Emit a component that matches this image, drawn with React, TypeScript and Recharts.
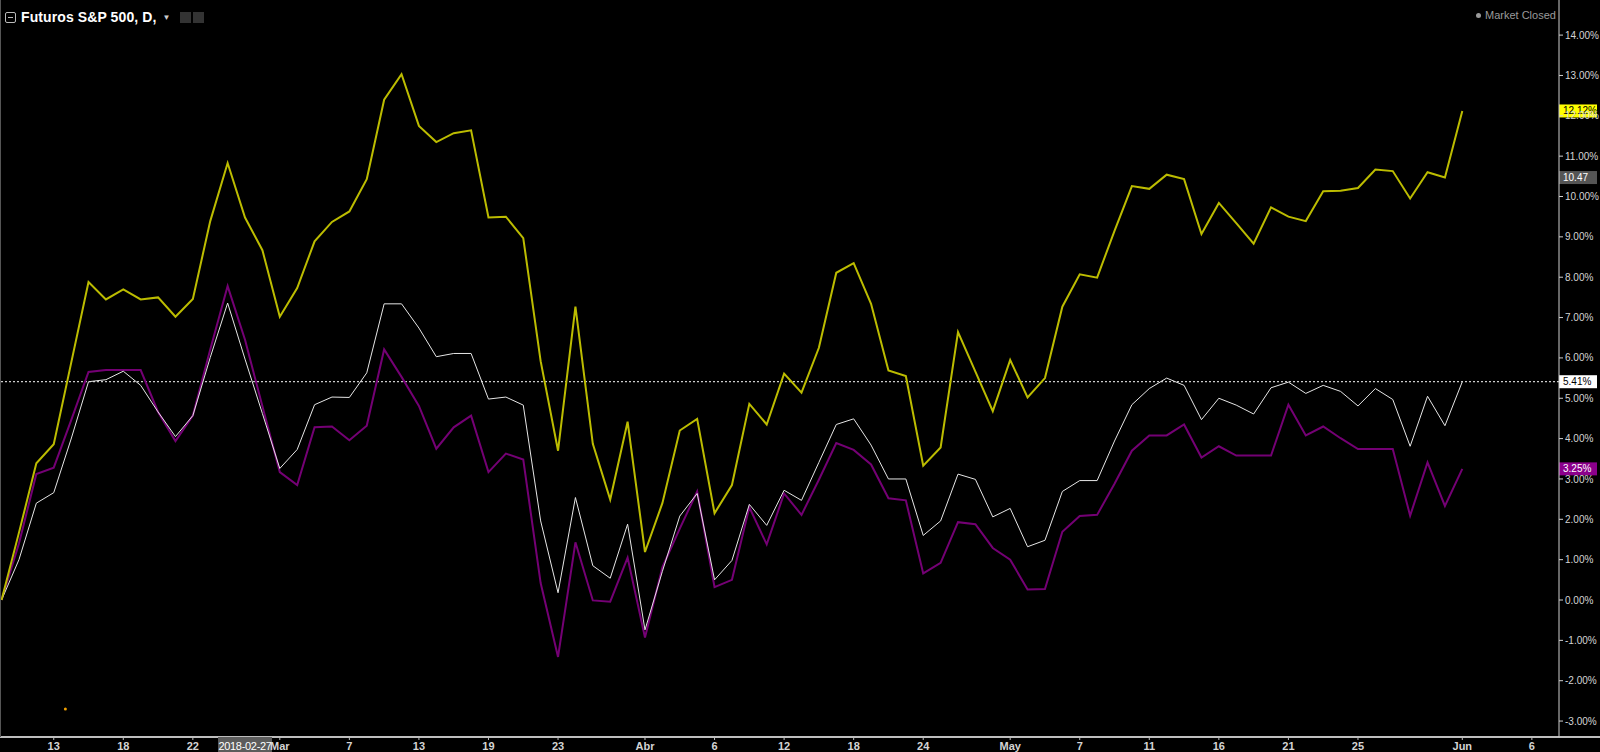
import React from "react";
import { LineChart, Line, XAxis, YAxis, ReferenceLine, ReferenceDot } from "recharts";

// % change since start, one value per daily bar (index 0..84)
const yellowSeries = [
  0, 1.67, 3.39, 3.86, 5.87, 7.88, 7.45, 7.7, 7.45, 7.5, 7.02, 7.46, 9.39, 10.83, 9.48, 8.67, 7.02, 7.73, 8.89, 9.37,
  9.63, 10.43, 12.4, 13.03, 11.75, 11.35, 11.57, 11.64, 9.48, 9.5, 8.97, 5.92, 3.7, 7.27, 3.87, 2.49, 4.42, 1.19, 2.4, 4.2,
  4.49, 2.15, 2.85, 4.86, 4.35, 5.61, 5.14, 6.25, 8.11, 8.35, 7.34, 5.69, 5.55, 3.33, 3.78, 6.64, 5.66, 4.68, 5.95, 5.02,
  5.5, 7.27, 8.07, 7.99, 9.15, 10.26, 10.19, 10.54, 10.43, 9.07, 9.84, 9.34, 8.83, 9.73, 9.5, 9.39, 10.13, 10.14, 10.21, 10.67,
  10.63, 9.95, 10.6, 10.47, 12.12,
];
const whiteSeries = [
  0, 1.0, 2.4, 2.66, 3.99, 5.41, 5.46, 5.67, 5.32, 4.66, 4.05, 4.57, 6.01, 7.36, 5.97, 4.62, 3.26, 3.73, 4.84, 5.03,
  5.02, 5.63, 7.34, 7.34, 6.74, 6.03, 6.11, 6.11, 4.98, 5.03, 4.83, 1.96, 0.18, 2.54, 0.85, 0.54, 1.88, -0.74, 0.71, 2.08,
  2.64, 0.5, 0.98, 2.37, 1.85, 2.72, 2.47, 3.41, 4.35, 4.49, 3.84, 3.0, 3.0, 1.6, 1.96, 3.12, 2.99, 2.06, 2.27, 1.32,
  1.48, 2.69, 2.96, 2.96, 3.94, 4.84, 5.24, 5.5, 5.32, 4.47, 5.0, 4.83, 4.61, 5.26, 5.4, 5.12, 5.32, 5.17, 4.81, 5.24,
  4.97, 3.81, 5.05, 4.32, 5.41,
];
const purpleSeries = [
  0, 1.4, 3.12, 3.28, 4.45, 5.65, 5.7, 5.7, 5.7, 4.66, 3.94, 4.57, 6.21, 7.78, 6.45, 4.8, 3.17, 2.85, 4.28, 4.3,
  3.96, 4.32, 6.21, 5.53, 4.81, 3.75, 4.28, 4.57, 3.17, 3.63, 3.48, 0.42, -1.41, 1.43, -0.01, -0.04, 1.05, -0.93, 0.81, 1.77,
  2.69, 0.32, 0.5, 2.3, 1.38, 2.64, 2.11, 2.98, 3.89, 3.72, 3.36, 2.52, 2.47, 0.66, 0.92, 1.93, 1.88, 1.29, 1.0, 0.26,
  0.27, 1.69, 2.08, 2.11, 2.88, 3.7, 4.08, 4.08, 4.35, 3.53, 3.81, 3.58, 3.58, 3.58, 4.84, 4.08, 4.3, 4.01, 3.74, 3.74,
  3.74, 2.09, 3.41, 2.33, 3.25,
];

// x-axis tick positions (bar index) and their labels
const xTickIdx = [3, 7, 11, 14, 16, 20, 24, 28, 32, 37, 41, 45, 49, 53, 58, 62, 66, 70, 74, 78, 84, 88];
const xTickLabels = ["13", "18", "22", "2018-02-27", "Mar", "7", "13", "19", "23", "Abr", "6", "12", "18", "24", "May", "7", "11", "16", "21", "25", "Jun", "6"];
const crosshairIdx = 14;

const yTicks = [-3, -2, -1, 0, 1, 2, 3, 4, 5, 6, 7, 8, 9, 10, 11, 12, 13, 14];

// last values / level shown on the price scale
const lastWhite = 5.41;
const lastYellow = 12.12;
const lastPurple = 3.25;
const crosshairLevel = 10.47;
const strayMarker = [3.67, -2.7];

const FONT = "'Liberation Sans', Arial, sans-serif";
const AXIS_TEXT = "#d4d4d4";

const data = yellowSeries.map((v, i) => ({
  idx: i,
  yellow: v,
  white: whiteSeries[i],
  purple: purpleSeries[i],
}));

function XTick({ x, y, payload }: any) {
  const pos = xTickIdx.indexOf(payload.value);
  const label = pos >= 0 ? xTickLabels[pos] : "";
  if (payload.value === crosshairIdx) {
    return (
      <g>
        <rect x={x - 27} y={y - 5} width={54} height={15} fill="#5c5c5c" />
        <text x={x} y={y} dy="0.71em" textAnchor="middle" fill="#ffffff" fontSize={11} fontFamily={FONT} letterSpacing={-0.3}>
          {label}
        </text>
      </g>
    );
  }
  return (
    <text x={x} y={y} dy="0.71em" textAnchor="middle" fill={AXIS_TEXT} fontSize={11} fontFamily={FONT} fontWeight="bold">
      {label}
    </text>
  );
}

function PriceTag({ viewBox, text, bg, fg }: any) {
  if (!viewBox) return null;
  const right = viewBox.x + viewBox.width;
  const cy = viewBox.y;
  return (
    <g>
      <rect x={right} y={cy - 6.5} width={38} height={13} fill={bg} />
      <text x={right + 4} y={cy} dy="0.35em" fill={fg} fontSize={10} fontFamily={FONT}>
        {text}
      </text>
    </g>
  );
}

export default function App() {
  return (
    <div style={{ position: "absolute", left: 0, top: 0, width: 1600, height: 752, background: "#000", overflow: "hidden" }}>
      <LineChart width={1600} height={752} data={data} margin={{ top: 0, right: 0, left: 0, bottom: 0 }}>
        <XAxis
          dataKey="idx"
          type="number"
          domain={[-0.09, 89.56]}
          allowDataOverflow
          ticks={xTickIdx}
          interval={0}
          tick={<XTick />}
          tickSize={3}
          axisLine={{ stroke: "#bdbdbd", strokeWidth: 2 }}
          tickLine={{ stroke: "#bdbdbd" }}
          height={15}
        />
        <YAxis
          orientation="right"
          type="number"
          domain={[-3.395, 14.87]}
          allowDataOverflow
          ticks={yTicks}
          interval={0}
          width={41}
          tickSize={4}
          tickFormatter={(v: number) => v.toFixed(2) + "%"}
          tick={{ fill: AXIS_TEXT, fontSize: 10, fontFamily: FONT }}
          axisLine={{ stroke: "#cfcfcf" }}
          tickLine={{ stroke: "#cfcfcf" }}
        />
        <ReferenceLine
          y={lastWhite}
          stroke="#ffffff"
          strokeDasharray="2 2"
          label={<PriceTag text="5.41%" bg="#ffffff" fg="#000000" />}
        />
        <Line type="linear" dataKey="purple" stroke="#740074" strokeWidth={2} dot={false} isAnimationActive={false} />
        <Line type="linear" dataKey="white" stroke="#e6e6e6" strokeWidth={1} dot={false} isAnimationActive={false} />
        <Line type="linear" dataKey="yellow" stroke="#bcbc00" strokeWidth={2} dot={false} isAnimationActive={false} />
        <ReferenceLine y={lastYellow} stroke="none" label={<PriceTag text="12.12%" bg="#ffff00" fg="#000000" />} />
        <ReferenceLine y={crosshairLevel} stroke="none" label={<PriceTag text="10.47" bg="#555555" fg="#ffffff" />} />
        <ReferenceLine y={lastPurple} stroke="none" label={<PriceTag text="3.25%" bg="#8b008b" fg="#ffffff" />} />
        <ReferenceDot x={strayMarker[0]} y={strayMarker[1]} r={1.5} fill="#f0a000" stroke="none" />
      </LineChart>

      {/* left frame edge and axis line continuation */}
      <div style={{ position: "absolute", left: 0, top: 0, width: 1, height: 737, background: "#555" }} />
      <div style={{ position: "absolute", left: 1559, top: 736, width: 41, height: 2, background: "#bdbdbd" }} />

      {/* title */}
      <div style={{ position: "absolute", left: 5, top: 9, display: "flex", alignItems: "center", fontFamily: FONT, color: "#fff" }}>
        <span style={{ width: 9, height: 9, border: "1px solid #bbb", borderRadius: 2, display: "inline-flex", alignItems: "center", justifyContent: "center", marginRight: 5 }}>
          <span style={{ width: 5, height: 1, background: "#bbb" }} />
        </span>
        <span style={{ fontSize: 14, fontWeight: "bold", letterSpacing: 0.1 }}>Futuros S&amp;P 500, D,</span>
        <span style={{ fontSize: 8, color: "#ccc", marginLeft: 6 }}>▼</span>
        <span style={{ width: 11, height: 11, background: "#333", marginLeft: 10, display: "inline-block" }} />
        <span style={{ width: 11, height: 11, background: "#333", marginLeft: 2, display: "inline-block" }} />
      </div>

      {/* status */}
      <div style={{ position: "absolute", left: 1476, top: 9, fontFamily: FONT, fontSize: 11, color: "#9a9a9a", display: "flex", alignItems: "center" }}>
        <span style={{ width: 5, height: 5, borderRadius: 3, background: "#9a9a9a", marginRight: 4, display: "inline-block" }} />
        Market Closed
      </div>
    </div>
  );
}
